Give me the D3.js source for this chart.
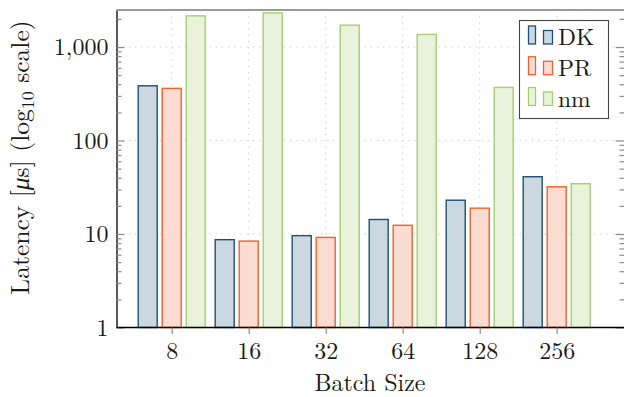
<!DOCTYPE html>
<html>
<head>
<meta charset="utf-8">
<script src="https://cdn.jsdelivr.net/npm/d3@7"></script>
</head>
<body style="margin:0; background:#fff">
<div id="chart"></div>
<script>
// data (latency in microseconds)
const categories = ['8', '16', '32', '64', '128', '256'];
const seriesNames = ['DK', 'PR', 'nm'];
const dkValues = [385, 8.7, 9.6, 14.3, 23, 41];
const prValues = [361, 8.4, 9.2, 12.4, 18.9, 32];
const nmValues = [2155, 2320, 1714, 1364, 370, 34.5];
const majorTicks = [1, 10, 100, 1000];
const minorTicks = [2, 3, 4, 5, 6, 7, 8, 9, 20, 30, 40, 50, 60, 70, 80, 90, 200, 300, 400, 500, 600, 700, 800, 900, 2000];

const seriesValues = [dkValues, prValues, nmValues];
const strokeColors = ['#1d5078', '#f0602e', '#a3cf70'];
const fillColors = ['#cbd8e0', '#fadcd1', '#e9f3dc'];
const fontFamily = '"Latin Modern Roman", "CMU Serif", "Liberation Serif", serif';
const fontSize = 24;

const width = 624, height = 397;
const plot = {left: 116.5, right: 624.5, top: 10, bottom: 327.5};

const svg = d3.select('#chart').append('svg')
  .attr('width', width)
  .attr('height', height)
  .style('display', 'block')
  .style('font-family', fontFamily);

const x = d3.scalePoint()
  .domain(categories)
  .range([171.7, 556.7]);
const offset = d3.scalePoint()
  .domain(seriesNames)
  .range([-24, 24]);
const barWidth = 19;
const y = d3.scaleLog()
  .domain([1, 2490])
  .range([plot.bottom, plot.top]);

// grid
const grid = svg.append('g')
  .attr('stroke', '#c8c8c8')
  .attr('stroke-width', 1)
  .attr('stroke-dasharray', '1.2,5');
grid.selectAll('.hgrid')
  .data(majorTicks.slice(1))
  .enter().append('line')
  .attr('x1', plot.left)
  .attr('x2', plot.right)
  .attr('y1', d => y(d))
  .attr('y2', d => y(d));
grid.selectAll('.vgrid')
  .data(categories)
  .enter().append('line')
  .attr('x1', d => x(d))
  .attr('x2', d => x(d))
  .attr('y1', plot.top)
  .attr('y2', plot.bottom);

// bars
const rows = [];
seriesNames.forEach((s, si) => {
  categories.forEach((c, ci) => rows.push({series: s, si: si, cat: c, value: seriesValues[si][ci]}));
});
svg.append('g').selectAll('rect')
  .data(rows)
  .enter().append('rect')
  .attr('x', d => x(d.cat) + offset(d.series) - barWidth / 2)
  .attr('width', barWidth)
  .attr('y', d => y(d.value))
  .attr('height', d => y(1) - y(d.value))
  .attr('fill', d => fillColors[d.si])
  .attr('stroke', d => strokeColors[d.si])
  .attr('stroke-width', 1.4);

// left axis
svg.append('g')
  .attr('transform', `translate(${plot.left},0)`)
  .call(d3.axisLeft(y).tickValues(majorTicks).tickSizeInner(-8).tickSizeOuter(0).tickPadding(8).tickFormat(d3.format(',')));
svg.append('g')
  .attr('transform', `translate(${plot.left},0)`)
  .call(d3.axisLeft(y).tickValues(minorTicks).tickSizeInner(-5).tickSizeOuter(0).tickFormat(''))
  .call(g => g.select('.domain').remove());

// right axis (mostly off canvas)
svg.append('g')
  .attr('transform', `translate(${plot.right},0)`)
  .call(d3.axisRight(y).tickValues(majorTicks).tickSizeInner(-9).tickSizeOuter(0).tickFormat(''))
  .call(g => g.select('.domain').remove());
svg.append('g')
  .attr('transform', `translate(${plot.right},0)`)
  .call(d3.axisRight(y).tickValues(minorTicks).tickSizeInner(-5).tickSizeOuter(0).tickFormat(''))
  .call(g => g.select('.domain').remove());

// bottom axis
const bottomAxis = svg.append('g')
  .attr('transform', `translate(0,${plot.bottom})`)
  .call(d3.axisBottom(x).tickSizeInner(6.5).tickSizeOuter(0).tickPadding(8));
bottomAxis.select('.domain')
  .attr('d', `M${plot.left},0H${plot.right}`);

svg.selectAll('g').attr('font-family', null).attr('font-size', null);
svg.selectAll('.tick line')
  .attr('stroke', '#8c8c8c')
  .attr('stroke-width', 1.2);
svg.selectAll('.domain')
  .attr('stroke', '#000')
  .attr('stroke-width', 1.3);
svg.selectAll('.tick text')
  .style('font-family', fontFamily)
  .style('font-size', fontSize + 'px')
  .attr('fill', '#1a1a1a');

// top border
svg.append('line')
  .attr('x1', plot.left)
  .attr('x2', plot.right)
  .attr('y1', plot.top)
  .attr('y2', plot.top)
  .attr('stroke', '#7a7a7a')
  .attr('stroke-width', 1.6);

// axis titles
svg.append('text')
  .attr('x', 370)
  .attr('y', 391)
  .attr('text-anchor', 'middle')
  .style('font-family', fontFamily)
  .style('font-size', fontSize + 'px')
  .attr('fill', '#1a1a1a')
  .text('Batch Size');

const yLabel = svg.append('text')
  .attr('transform', 'translate(29,157.5) rotate(-90)')
  .attr('text-anchor', 'middle')
  .style('font-family', fontFamily)
  .style('font-size', '25.5px')
  .attr('fill', '#1a1a1a');
yLabel.append('tspan').text('Latency [');
yLabel.append('tspan').style('font-style', 'italic').text('μ');
yLabel.append('tspan').text('s] (log');
yLabel.append('tspan').style('font-size', '18px').attr('dy', 5).text('10');
yLabel.append('tspan').attr('dy', -5).text(' scale)');

// legend
const legend = svg.append('g');
legend.append('rect')
  .attr('x', 519.5)
  .attr('y', 20.5)
  .attr('width', 89)
  .attr('height', 98)
  .attr('fill', '#fff')
  .attr('stroke', '#444')
  .attr('stroke-width', 1.1);
const legendY = d3.scalePoint()
  .domain(seriesNames)
  .range([35, 96.5]);
const entries = legend.selectAll('.entry')
  .data(seriesNames)
  .enter().append('g')
  .attr('class', 'entry')
  .attr('transform', d => `translate(0,${legendY(d)})`);
entries.append('rect')
  .attr('x', 528.5)
  .attr('y', -9)
  .attr('width', 7)
  .attr('height', 18)
  .attr('fill', (d, i) => fillColors[i])
  .attr('stroke', (d, i) => strokeColors[i])
  .attr('stroke-width', 1.3);
entries.append('rect')
  .attr('x', 543.5)
  .attr('y', -4.5)
  .attr('width', 9)
  .attr('height', 13.5)
  .attr('fill', (d, i) => fillColors[i])
  .attr('stroke', (d, i) => strokeColors[i])
  .attr('stroke-width', 1.3);
entries.append('text')
  .attr('x', 558)
  .attr('y', 10)
  .style('font-family', fontFamily)
  .style('font-size', '23.5px')
  .attr('fill', '#1a1a1a')
  .text(d => d);
</script>
</body>
</html>
